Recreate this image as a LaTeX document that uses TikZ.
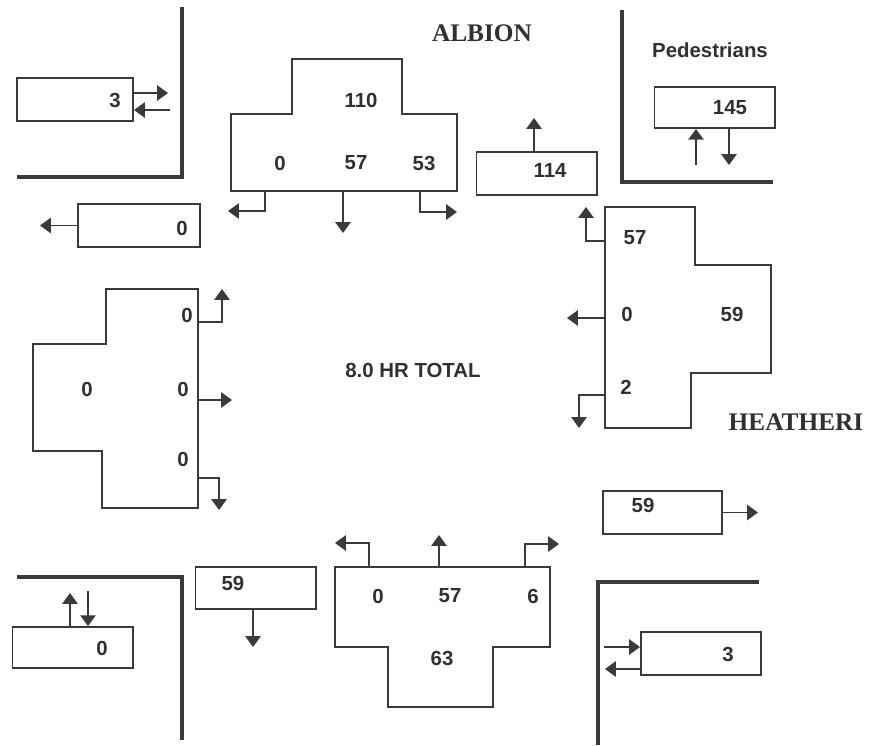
\documentclass[tikz,border=0pt]{standalone}
\usepackage{fontspec}
\setmainfont{Liberation Serif}
\setsansfont{Liberation Sans}
\usepackage{tikz}
\usetikzlibrary{arrows.meta, positioning, calc}
\definecolor{inkOne}{HTML}{303030}
\definecolor{inkTwo}{HTML}{3A3A3A}
\tikzset{
  box/.style={draw=inkTwo, line width=1.4pt, minimum width=3cm, minimum height=1.07cm, inner sep=0pt},
  num/.style={font=\sffamily\bfseries\fontsize{14.5}{17}\selectfont, text=inkOne, inner sep=0pt},
  street/.style={font=\bfseries\fontsize{18}{21}\selectfont, text=inkOne, inner sep=0pt},
  kerb/.style={draw=inkTwo, line width=2.8pt},
  appr/.style={draw=inkTwo, line width=1.4pt},
  arr/.style={-{Triangle[length=0.27cm, width=0.38cm]}, draw=inkTwo, line width=1.3pt},
}

\begin{document}
\begin{tikzpicture}[x=0.025cm, y=-0.025cm]
  \useasboundingbox (0,0) rectangle (869,745);
  % ---- street names and total
  \node[street] (albion) at (482,33) {ALBION};
  \node[street] (heath) at (796,422) {HEATHERI};
  \node[num] (peds) at (710,50) {Pedestrians};
  \node[num] (total) at (413,370) {8.0 HR TOTAL};

  % ---- kerb corners
  \draw[kerb] (182,7) -- (182,177) -- (17,177);
  \draw[kerb] (622,10) -- (622,182) -- (773,182);
  \draw[kerb] (17,577) -- (182,577) -- (182,740);
  \draw[kerb] (759,582) -- (598,582) -- (598,745);

  % ---- north approach
  \draw[appr] (292,59) -- (402,59) -- (402,114) -- (457,114) -- (457,191) -- (231,191) -- (231,114) -- (292,114) -- cycle;
  \node[num] (nIn) at (361,100) {110};
  \node[num] (nR) at (280,163) {0};
  \node[num] (nT) at (356,163) {57};
  \node[num] (nL) at (424,163) {53};
  \coordinate (nRa) at (265,191); \coordinate (nRb) at (228,211);
  \coordinate (nTa) at (343,191); \coordinate (nTb) at (343,233);
  \coordinate (nLa) at (420,191); \coordinate (nLb) at (457,212);
  \draw[arr] (nRa) |- (nRb);
  \draw[arr] (nTa) -- (nTb);
  \draw[arr] (nLa) |- (nLb);

  % ---- east approach
  \draw[appr] (605,207) -- (695,207) -- (695,265) -- (771,265) -- (771,373) -- (691,373) -- (691,428) -- (605,428) -- cycle;
  \node[num] (eR) at (635,238) {57};
  \node[num] (eT) at (627,314) {0};
  \node[num] (eIn) at (732,314) {59};
  \node[num] (eL) at (626,387) {2};
  \coordinate (eRa) at (605,241); \coordinate (eRb) at (586,207);
  \coordinate (eTa) at (605,318); \coordinate (eTb) at (567,318);
  \coordinate (eLa) at (605,395); \coordinate (eLb) at (579,428);
  \draw[arr] (eRa) -| (eRb);
  \draw[arr] (eTa) -- (eTb);
  \draw[arr] (eLa) -| (eLb);

  % ---- west approach
  \draw[appr] (106,289) -- (198,289) -- (198,508) -- (102,508) -- (102,451) -- (33,451) -- (33,344) -- (106,344) -- cycle;
  \node[num] (wL) at (187,315) {0};
  \node[num] (wIn) at (87,389) {0};
  \node[num] (wT) at (183,389) {0};
  \node[num] (wR) at (183,459) {0};
  \coordinate (wLa) at (198,322); \coordinate (wLb) at (222,289);
  \coordinate (wTa) at (198,400); \coordinate (wTb) at (232,400);
  \coordinate (wRa) at (198,478); \coordinate (wRb) at (219,510);
  \draw[arr] (wLa) -| (wLb);
  \draw[arr] (wTa) -- (wTb);
  \draw[arr] (wRa) -| (wRb);

  % ---- south approach
  \draw[appr] (335,567) -- (550,567) -- (550,647) -- (493,647) -- (493,707) -- (388,707) -- (388,647) -- (335,647) -- cycle;
  \node[num] (sL) at (378,596) {0};
  \node[num] (sT) at (450,596) {57};
  \node[num] (sR) at (533,596) {6};
  \node[num] (sIn) at (442,658) {63};
  \coordinate (sLa) at (369,567); \coordinate (sLb) at (335,543);
  \coordinate (sTa) at (439,567); \coordinate (sTb) at (439,535);
  \coordinate (sRa) at (525,567); \coordinate (sRb) at (559,544);
  \draw[arr] (sLa) |- (sLb);
  \draw[arr] (sTa) -- (sTb);
  \draw[arr] (sRa) |- (sRb);

  % ---- exit and pedestrian boxes
  \node[box, minimum width=2.9cm] (bxNW) at (75,99.5) {};
  \node[num] at (115,100) {3};
  \node[box, minimum width=3.05cm] (bxW) at (139,225.5) {};
  \node[num] at (182,228) {0};
  \node[box] (bxN) at (536.5,173.5) {};
  \node[num] at (550,170) {114};
  \node[box, minimum height=1.02cm] (bxPed) at (714.5,107.5) {};
  \node[num] at (730,108) {145};
  \node[box, minimum width=2.98cm] (bxE) at (662.5,512.5) {};
  \node[num] at (643,505) {59};
  \node[box, minimum height=1.05cm] (bxS) at (255.5,588) {};
  \node[num] at (233,583) {59};
  \node[box, minimum height=1.02cm] (bxSW) at (72.5,647.5) {};
  \node[num] at (102,648) {0};
  \node[box] (bxSE) at (701,653.5) {};
  \node[num] at (728,654) {3};

  \coordinate (pNWout) at (168,93); \coordinate (pNWin) at (170,110);
  \draw[arr] (bxNW.east |- pNWout) -- (pNWout);
  \draw[arr] (pNWin) -- (bxNW.east |- pNWin);
  \coordinate (pW) at (40,225.5);
  \draw[arr] (bxW.west) -- (pW);
  \coordinate (pN) at (534,118);
  \draw[arr] (bxN.north -| pN) -- (pN);
  \coordinate (pPedUp) at (696,165); \coordinate (pPedDn) at (729,165);
  \draw[arr] (pPedUp) -- (bxPed.south -| pPedUp);
  \draw[arr] (bxPed.south -| pPedDn) -- (pPedDn);
  \coordinate (pE) at (758,512.5);
  \draw[arr] (bxE.east) -- (pE);
  \coordinate (pS) at (253,647);
  \draw[arr] (bxS.south -| pS) -- (pS);
  \coordinate (pSWup) at (70,593); \coordinate (pSWdn) at (88,591);
  \draw[arr] (bxSW.north -| pSWup) -- (pSWup);
  \draw[arr] (pSWdn) -- (bxSW.north -| pSWdn);
  \coordinate (pSEin) at (604,647); \coordinate (pSEout) at (605,669);
  \draw[arr] (pSEin) -- (bxSE.west |- pSEin);
  \draw[arr] (bxSE.west |- pSEout) -- (pSEout);
\end{tikzpicture}
\end{document}
